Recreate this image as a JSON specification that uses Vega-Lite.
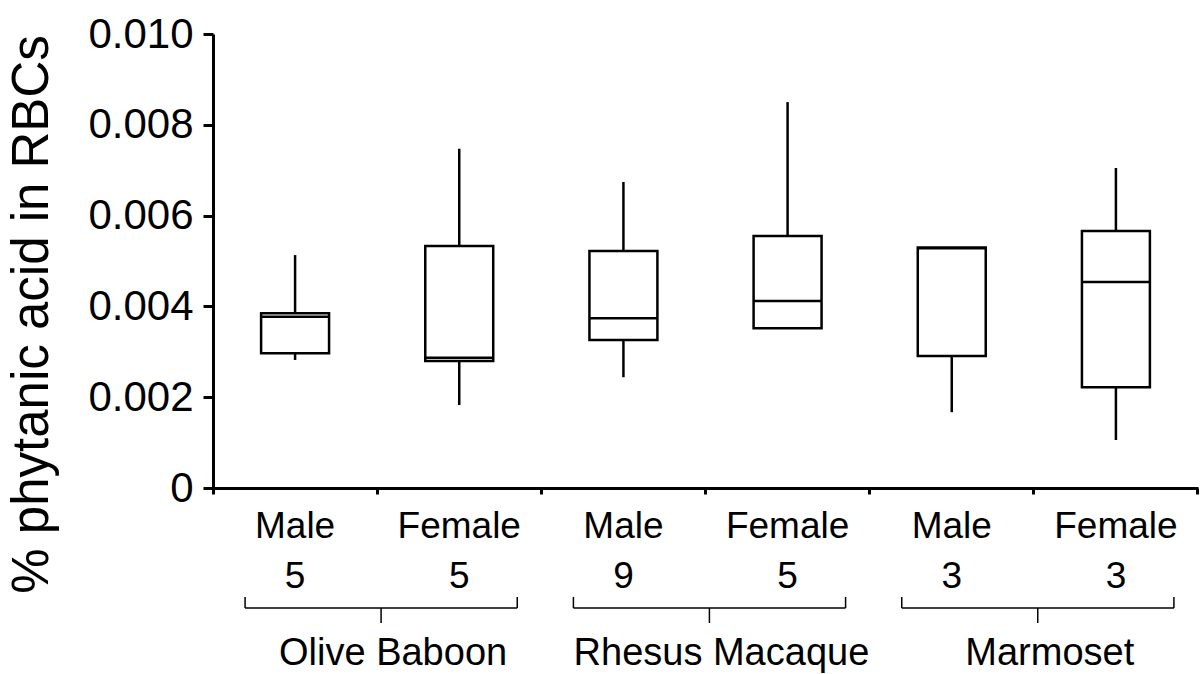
{
  "$schema": "https://vega.github.io/schema/vega-lite/v6.json",
  "width": 985,
  "height": 454,
  "autosize": "none",
  "padding": {"left": 213, "top": 34, "right": 2, "bottom": 186},
  "background": "white",
  "config": {"view": {"stroke": null}, "font": "Liberation Sans"},
  "datasets": {
    "boxes": [
      {"group": "Olive Baboon|Male|5", "lo": 0.00282, "q1": 0.00297, "med": 0.00377, "q3": 0.00385, "hi": 0.00513},
      {"group": "Olive Baboon|Female|5", "lo": 0.00183, "q1": 0.00280, "med": 0.00287, "q3": 0.00533, "hi": 0.00747},
      {"group": "Rhesus Macaque|Male|9", "lo": 0.00244, "q1": 0.00326, "med": 0.00374, "q3": 0.00522, "hi": 0.00674},
      {"group": "Rhesus Macaque|Female|5", "lo": 0.00352, "q1": 0.00352, "med": 0.00412, "q3": 0.00555, "hi": 0.00850},
      {"group": "Marmoset|Male|3", "lo": 0.00167, "q1": 0.00291, "med": 0.00528, "q3": 0.00530, "hi": 0.00530},
      {"group": "Marmoset|Female|3", "lo": 0.00106, "q1": 0.00222, "med": 0.00454, "q3": 0.00566, "hi": 0.00705}
    ],
    "species": [
      {"species": "Olive Baboon", "first": "Olive Baboon|Male|5", "last": "Olive Baboon|Female|5"},
      {"species": "Rhesus Macaque", "first": "Rhesus Macaque|Male|9", "last": "Rhesus Macaque|Female|5"},
      {"species": "Marmoset", "first": "Marmoset|Male|3", "last": "Marmoset|Female|3"}
    ]
  },
  "layer": [
    {
      "data": {"name": "boxes"},
      "mark": {"type": "rule", "color": "black", "strokeWidth": 2.5},
      "encoding": {
        "x": {
          "field": "group", "type": "nominal", "title": null,
          "scale": {
            "domain": ["Olive Baboon|Male|5", "Olive Baboon|Female|5", "Rhesus Macaque|Male|9", "Rhesus Macaque|Female|5", "Marmoset|Male|3", "Marmoset|Female|3"],
            "paddingInner": 0, "paddingOuter": 0
          },
          "axis": {
            "title": null,
            "labelExpr": "slice(split(datum.label, '|'), 1)",
            "labelFont": "Liberation Sans",
            "labelFontSize": 37,
            "labelLineHeight": 50,
            "labelPadding": 14,
            "labelColor": "black",
            "labelAngle": 0,
            "labelFlush": false,
            "labelOverlap": false,
            "labelBound": false,
            "labelLimit": 400,
            "domainColor": "black",
            "domainWidth": 3,
            "tickColor": "black",
            "tickWidth": 3,
            "tickSize": 6,
            "bandPosition": 1,
            "tickExtra": true,
            "grid": false
          }
        },
        "y": {
          "field": "lo", "type": "quantitative", "title": "% phytanic acid in RBCs",
          "scale": {"domain": [0, 0.01], "nice": false, "zero": true},
          "axis": {
            "title": "% phytanic acid in RBCs",
            "values": [0, 0.002, 0.004, 0.006, 0.008, 0.01],
            "labelExpr": "datum.value == 0 ? '0' : format(datum.value, '.3f')",
            "labelFont": "Liberation Sans",
            "labelFontSize": 42,
            "labelPadding": 10,
            "labelColor": "black",
            "labelFlush": false,
            "tickSize": 10,
            "tickWidth": 3,
            "tickColor": "black",
            "domainWidth": 3,
            "domainColor": "black",
            "grid": false,
            "titleFont": "Liberation Sans",
            "titleFontSize": 51,
            "titleFontWeight": "normal",
            "titleColor": "black",
            "titleBaseline": "bottom",
            "titleX": -155,
            "titleY": 280
          }
        },
        "y2": {"field": "hi"}
      }
    },
    {
      "data": {"name": "boxes"},
      "mark": {"type": "bar", "fill": "white", "stroke": "black", "strokeWidth": 2.5, "width": {"band": 0.414}},
      "encoding": {
        "x": {"field": "group", "type": "nominal", "title": null},
        "y": {"field": "q1", "type": "quantitative", "title": "% phytanic acid in RBCs"},
        "y2": {"field": "q3"}
      }
    },
    {
      "data": {"name": "boxes"},
      "mark": {"type": "tick", "color": "black", "size": 68, "thickness": 2.5, "opacity": 1},
      "encoding": {
        "x": {"field": "group", "type": "nominal", "title": null},
        "y": {"field": "med", "type": "quantitative", "title": "% phytanic acid in RBCs"}
      }
    },
    {
      "data": {"name": "species"},
      "mark": {"type": "rule", "color": "black", "strokeWidth": 1.5, "xOffset": -50, "x2Offset": 58},
      "encoding": {
        "x": {"field": "first", "type": "nominal", "title": null},
        "x2": {"field": "last"},
        "y": {"datum": -0.002643, "type": "quantitative", "title": "% phytanic acid in RBCs"}
      }
    },
    {
      "data": {"name": "species"},
      "mark": {"type": "rule", "color": "black", "strokeWidth": 1.5, "xOffset": -50},
      "encoding": {
        "x": {"field": "first", "type": "nominal", "title": null},
        "y": {"datum": -0.0024, "type": "quantitative", "title": "% phytanic acid in RBCs"},
        "y2": {"datum": -0.002643}
      }
    },
    {
      "data": {"name": "species"},
      "mark": {"type": "rule", "color": "black", "strokeWidth": 1.5, "xOffset": 58},
      "encoding": {
        "x": {"field": "last", "type": "nominal", "title": null},
        "y": {"datum": -0.0024, "type": "quantitative", "title": "% phytanic acid in RBCs"},
        "y2": {"datum": -0.002643}
      }
    },
    {
      "data": {"name": "species"},
      "mark": {"type": "rule", "color": "black", "strokeWidth": 1.5, "xOffset": 86},
      "encoding": {
        "x": {"field": "first", "type": "nominal", "title": null},
        "y": {"datum": -0.002643, "type": "quantitative", "title": "% phytanic acid in RBCs"},
        "y2": {"datum": -0.002974}
      }
    },
    {
      "data": {"name": "species"},
      "mark": {"type": "text", "color": "black", "font": "Liberation Sans", "fontSize": 38, "align": "center", "baseline": "alphabetic", "xOffset": 98},
      "encoding": {
        "x": {"field": "first", "type": "nominal", "title": null},
        "y": {"datum": -0.0039, "type": "quantitative", "title": "% phytanic acid in RBCs"},
        "text": {"field": "species"}
      }
    }
  ]
}
